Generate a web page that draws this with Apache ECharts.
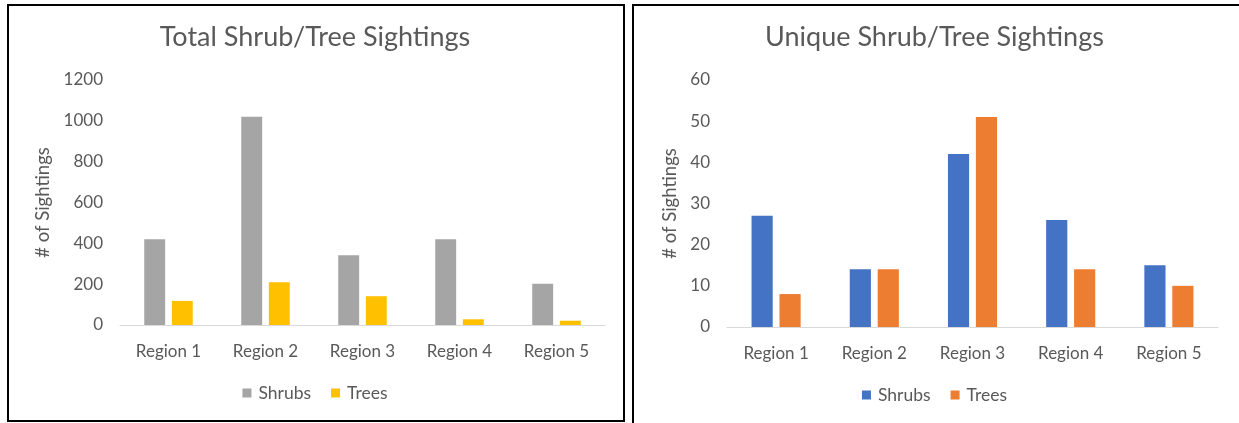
<!DOCTYPE html>
<html>
<head>
<meta charset="utf-8">
<script src="https://cdn.jsdelivr.net/npm/echarts@6/dist/echarts.min.js"></script>
<style>
  html, body { margin: 0; padding: 0; background: #fff; }
  body { width: 1239px; height: 423px; position: relative; overflow: hidden; }
  .chart { position: absolute; top: 0; height: 423px; }
  .frame { position: absolute; border: 2px solid #000; box-sizing: border-box; pointer-events: none; }
</style>
</head>
<body>
<div id="c1" class="chart" style="left:0;width:630px;"></div>
<div id="c2" class="chart" style="left:630px;width:609px;"></div>
<div class="frame" style="left:7px;top:4px;width:618px;height:418px;"></div>
<div class="frame" style="left:632px;top:4px;width:610px;height:430px;"></div>
<script>
const categories = ['Region 1', 'Region 2', 'Region 3', 'Region 4', 'Region 5'];
const totalShrubs = [420, 1020, 342, 420, 202];
const totalTrees = [118, 210, 141, 28, 21];
const uniqueShrubs = [27, 14, 42, 26, 15];
const uniqueTrees = [8, 14, 51, 14, 10];
const seriesNames = ['Shrubs', 'Trees'];
const titles = ['Total Shrub/Tree Sightings', 'Unique Shrub/Tree Sightings'];
const yAxisName = '# of Sightings';

const FONT = 'Lato';
const TXT = '#595959';

function makeOption(title, s1, s2, colors, yMax, yInt, grid, nameGap, legendBottom) {
  return {
    animation: false,
    textStyle: { fontFamily: FONT },
    title: {
      text: title, left: 'center', top: 19,
      textStyle: { fontFamily: FONT, fontSize: 27, fontWeight: 'normal', color: TXT }
    },
    legend: {
      bottom: legendBottom, left: 'center', itemWidth: 9, itemHeight: 9, itemGap: 20,
      icon: 'rect',
      textStyle: { fontFamily: FONT, fontSize: 17.5, color: TXT, padding: [0, 0, 0, 2] },
      data: seriesNames
    },
    grid: grid,
    xAxis: {
      type: 'category', data: categories,
      axisLine: { lineStyle: { color: '#D9D9D9', width: 1 } },
      axisTick: { show: false },
      axisLabel: { fontFamily: FONT, fontSize: 17, color: TXT, margin: 18 }
    },
    yAxis: {
      type: 'value', min: 0, max: yMax, interval: yInt,
      name: yAxisName, nameLocation: 'middle', nameGap: nameGap,
      nameTextStyle: { fontFamily: FONT, fontSize: 18.5, color: TXT },
      axisLine: { show: false }, axisTick: { show: false },
      splitLine: { show: false },
      axisLabel: { fontFamily: FONT, fontSize: 17, color: TXT, margin: 17,
        formatter: function (v) { return String(v); } }
    },
    series: [
      { name: seriesNames[0], type: 'bar', data: s1, itemStyle: { color: colors[0] },
        barGap: '32%', barCategoryGap: '50%' },
      { name: seriesNames[1], type: 'bar', data: s2, itemStyle: { color: colors[1] },
        barGap: '32%', barCategoryGap: '50%' }
    ]
  };
}

const c1 = echarts.init(document.getElementById('c1'));
c1.setOption(makeOption(titles[0], totalShrubs, totalTrees, ['#A5A5A5', '#FFC000'], 1200, 200,
  { left: 120, right: 25, top: 80, bottom: 98 }, 55, 16));

const c2 = echarts.init(document.getElementById('c2'));
c2.setOption(makeOption(titles[1], uniqueShrubs, uniqueTrees, ['#4472C4', '#ED7D31'], 60, 10,
  { left: 97, right: 21, top: 80, bottom: 96 }, 47, 14));
</script>
</body>
</html>
